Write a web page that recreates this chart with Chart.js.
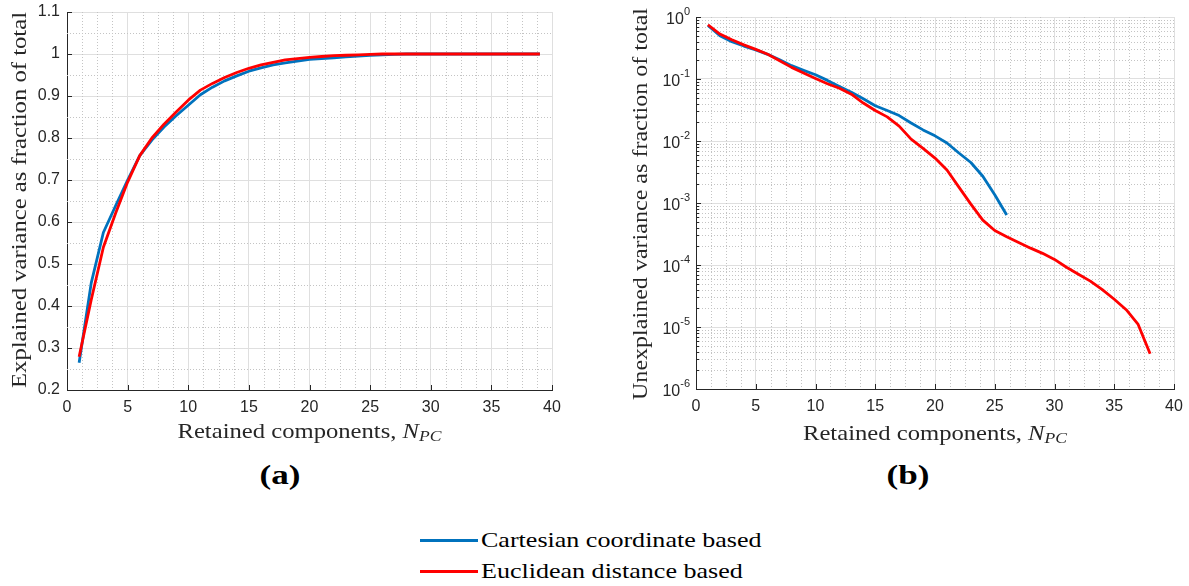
<!DOCTYPE html>
<html>
<head>
<meta charset="utf-8">
<title>Retained components</title>
<script src="https://cdn.jsdelivr.net/npm/chart.js@4.4.0/dist/chart.umd.min.js"></script>
<style>
  body { margin: 0; background: #fff; width: 1189px; height: 586px; position: relative; overflow: hidden; }
  canvas { position: absolute; top: 0; }
  #chartA { left: 0; }
  #chartB { left: 600px; }
  .panel { position: absolute; top: 460px; font: bold 27px "Liberation Serif", serif; color: #000;
           transform: translateX(-50%) scaleX(1.3); }
  .legend { position: absolute; left: 420px; top: 525px; font: 21px "Liberation Serif", serif; color: #000; }
  .legend div { display: flex; align-items: center; height: 31px; white-space: nowrap; }
  .legend .swatch { display: inline-block; width: 58px; height: 3px; margin-right: 3px; }
  .legend .txt { display: inline-block; transform: scaleX(1.24); transform-origin: left center; }
</style>
</head>
<body>
<canvas id="chartA" width="600" height="460"></canvas>
<canvas id="chartB" width="589" height="460"></canvas>
<div class="panel" style="left:280px">(a)</div>
<div class="panel" style="left:908px">(b)</div>
<div class="legend">
  <div><span class="swatch" style="background:#0072BD"></span><span class="txt">Cartesian coordinate based</span></div>
  <div><span class="swatch" style="background:#FF0000"></span><span class="txt">Euclidean distance based</span></div>
</div>
<script>
// Number of retained principal components
const nPC = [1, 2, 3, 4, 5, 6, 7, 8, 9, 10, 11, 12, 13, 14, 15, 16, 17, 18, 19, 20,
  21, 22, 23, 24, 25, 26, 27, 28, 29, 30, 31, 32, 33, 34, 35, 36, 37, 38, 39];

// Explained variance (fraction of total)
const explainedCartesian = [0.265, 0.455, 0.575, 0.638, 0.700, 0.758, 0.795, 0.826, 0.853, 0.878,
  0.903, 0.921, 0.936, 0.948, 0.959, 0.967, 0.974, 0.979, 0.983, 0.987,
  0.989, 0.991, 0.993, 0.995, 0.997, 0.998, 0.999, 1.000, 1.000, 1.000,
  1.000, 1.000, 1.000, 1.000, 1.000, 1.000, 1.000, 1.000, 1.000];
const explainedEuclidean = [0.279, 0.415, 0.540, 0.620, 0.695, 0.758, 0.800, 0.833, 0.862, 0.890,
  0.914, 0.930, 0.944, 0.956, 0.966, 0.974, 0.980, 0.986, 0.989, 0.992,
  0.994, 0.996, 0.997, 0.998, 0.999, 1.000, 1.000, 1.000, 1.000, 1.000,
  1.000, 1.000, 1.000, 1.000, 1.000, 1.000, 1.000, 1.000, 1.000];

// Unexplained variance (fraction of total)
const unexplainedCartesian = [0.73, 0.50, 0.40, 0.34, 0.295, 0.25, 0.204, 0.164, 0.138, 0.117,
  0.095, 0.076, 0.061, 0.048, 0.037, 0.031, 0.0257, 0.0195, 0.0151, 0.0121,
  0.0093, 0.0064, 0.0045, 0.0027, 0.00136, 0.00064];
const unexplainedEuclidean = [0.75, 0.53, 0.43, 0.355, 0.30, 0.25, 0.197, 0.154, 0.125, 0.102,
  0.084, 0.071, 0.057, 0.041, 0.031, 0.0245, 0.0174, 0.0107, 0.0076, 0.0053,
  0.0034, 0.0018, 0.00096, 0.00053, 0.00036, 0.000285, 0.00023, 0.000187, 0.000154, 0.000123,
  0.000092, 0.000071, 0.000055, 0.00004, 0.000028, 0.000019, 0.000011, 0.0000037];

// Axis ticks
const xTicks = [0, 5, 10, 15, 20, 25, 30, 35, 40];
const explainedTicks = [0.2, 0.3, 0.4, 0.5, 0.6, 0.7, 0.8, 0.9, 1.0, 1.1];
const unexplainedTicks = [1e-6, 1e-5, 1e-4, 1e-3, 1e-2, 1e-1, 1];

const BLUE = '#0072BD';
const RED = '#FF0000';
const AXIS = '#262626';
const MAJOR_GRID = '#dfdfdf';
const MINOR_GRID = '#c4c4c4';
const TICK_FONT = { family: '"Liberation Sans", Arial, sans-serif', size: 16 };
const SERIF = '"Liberation Serif", serif';
const TITLE_SIZE = 21;

function points(values) {
  return values.map((v, i) => ({ x: nPC[i], y: v }));
}

function lineSet(label, values, color, order) {
  return {
    label, data: points(values), borderColor: color, backgroundColor: color,
    borderWidth: 2.8, pointRadius: 0, tension: 0, order,
    borderJoinStyle: 'round', borderCapStyle: 'butt'
  };
}

// minor grid positions: 4 subdivisions between x ticks
function xMinorValues() {
  const out = [];
  for (let i = 0; i < xTicks.length - 1; i++)
    for (let k = 1; k < 4; k++) out.push(xTicks[i] + k * (xTicks[i + 1] - xTicks[i]) / 4);
  return out;
}

// writes runs of text centred on the origin, stretched to the given width
function drawRuns(ctx, runs, width) {
  let natural = 0;
  runs.forEach(r => { ctx.font = r.f; r.w = ctx.measureText(r.t).width; natural += r.w; });
  const k = width / natural;
  ctx.save();
  ctx.scale(k, 1);
  ctx.fillStyle = AXIS;
  ctx.textBaseline = 'middle';
  ctx.textAlign = 'left';
  let x = -natural / 2;
  runs.forEach(r => { ctx.font = r.f; ctx.fillText(r.t, x, r.dy || 0); x += r.w; });
  ctx.restore();
}

// "Retained components, N_PC"
function drawXTitle(ctx, cx, cy, width) {
  ctx.save();
  ctx.translate(cx, cy);
  drawRuns(ctx, [
    { t: 'Retained components, ', f: `${TITLE_SIZE}px ${SERIF}` },
    { t: 'N', f: `italic ${TITLE_SIZE}px ${SERIF}` },
    { t: 'PC', f: `italic ${Math.round(TITLE_SIZE * 0.7)}px ${SERIF}`, dy: 5 }
  ], width);
  ctx.restore();
}

function drawYTitle(ctx, text, cx, cy, length) {
  ctx.save();
  ctx.translate(cx, cy);
  ctx.rotate(-Math.PI / 2);
  drawRuns(ctx, [{ t: text, f: `${TITLE_SIZE}px ${SERIF}` }], length);
  ctx.restore();
}

function matlabAxes(cfg) {
  return {
    id: 'matlabAxes',
    beforeDatasetsDraw(chart) {
      const { ctx, chartArea: a, scales: { x, y } } = chart;
      ctx.save();
      ctx.strokeStyle = MINOR_GRID;
      ctx.lineWidth = 1;
      ctx.setLineDash([1, 2]);
      ctx.beginPath();
      xMinorValues().forEach(v => {
        const px = Math.round(x.getPixelForValue(v)) + 0.5;
        ctx.moveTo(px, a.top); ctx.lineTo(px, a.bottom);
      });
      cfg.yMinor.forEach(v => {
        const py = Math.round(y.getPixelForValue(v)) + 0.5;
        ctx.moveTo(a.left, py); ctx.lineTo(a.right, py);
      });
      ctx.stroke();
      ctx.restore();
    },
    afterDatasetsDraw(chart) {
      // inward tick marks
      const { ctx, chartArea: a, scales: { x, y } } = chart;
      ctx.save();
      ctx.strokeStyle = AXIS;
      ctx.lineWidth = 1;
      ctx.beginPath();
      xTicks.forEach(v => {
        const px = Math.round(x.getPixelForValue(v)) + 0.5;
        ctx.moveTo(px, a.bottom); ctx.lineTo(px, a.bottom - 5);
      });
      cfg.yTicks.forEach(v => {
        const py = Math.round(y.getPixelForValue(v)) + 0.5;
        ctx.moveTo(a.left, py); ctx.lineTo(a.left + 5, py);
      });
      if (cfg.log) {
        cfg.yMinor.forEach(v => {
          const py = Math.round(y.getPixelForValue(v)) + 0.5;
          ctx.moveTo(a.left, py); ctx.lineTo(a.left + 3, py);
        });
      }
      ctx.stroke();
      ctx.restore();
    },
    afterDraw(chart) {
      const { ctx, chartArea: a, scales: { y } } = chart;
      ctx.save();
      if (cfg.log) {
        // power-of-ten labels with raised exponent
        cfg.yTicks.forEach(v => {
          const e = Math.round(Math.log10(v));
          const py = y.getPixelForValue(v);
          ctx.fillStyle = AXIS;
          ctx.textBaseline = 'alphabetic';
          ctx.textAlign = 'left';
          const base = '10', sup = String(e);
          ctx.font = `16px ${TICK_FONT.family}`;
          const wb = ctx.measureText(base).width;
          ctx.font = `11px ${TICK_FONT.family}`;
          const ws = ctx.measureText(sup).width;
          const x0 = a.left - 6 - wb - ws;
          ctx.font = `16px ${TICK_FONT.family}`;
          ctx.fillText(base, x0, py + 7);
          ctx.font = `11px ${TICK_FONT.family}`;
          ctx.fillText(sup, x0 + wb, py - 2);
        });
      }
      drawXTitle(ctx, (a.left + a.right) / 2, cfg.xTitleY, 264);
      drawYTitle(ctx, cfg.yTitle, cfg.yTitleX, cfg.yTitleCY, cfg.yTitleLen);
      ctx.restore();
    }
  };
}

function xScale(height) {
  return {
    type: 'linear', min: 0, max: 40,
    afterBuildTicks: s => { s.ticks = xTicks.map(v => ({ value: v })); },
    afterFit: s => { s.height = height; s.paddingLeft = 0; s.paddingRight = 0; },
    ticks: { font: TICK_FONT, color: AXIS, padding: 8, maxRotation: 0, autoSkip: false },
    grid: { color: MAJOR_GRID, drawTicks: false },
    border: { color: AXIS, width: 1 }
  };
}

function yFit(width) {
  return s => { s.width = width; s.paddingTop = 0; s.paddingBottom = 0; };
}

const common = {
  responsive: false,
  animation: false,
  plugins: { legend: { display: false }, tooltip: { enabled: false } }
};

// (a) explained variance, linear axis
const explainedMinor = explainedTicks.slice(0, -1).map(v => +(v + 0.05).toFixed(2));
new Chart(document.getElementById('chartA'), {
  type: 'line',
  data: {
    datasets: [
      lineSet('Cartesian coordinate based', explainedCartesian, BLUE, 1),
      lineSet('Euclidean distance based', explainedEuclidean, RED, 0)
    ]
  },
  options: {
    ...common,
    layout: { padding: { top: 12, right: 48, left: 0, bottom: 0 } },
    scales: {
      x: xScale(70),
      y: {
        type: 'linear', min: 0.2, max: 1.1,
        afterBuildTicks: s => { s.ticks = explainedTicks.map(v => ({ value: v })); },
        afterFit: yFit(67),
        ticks: { font: TICK_FONT, color: AXIS, padding: 7, callback: v => String(Number(v.toFixed(1))) },
        grid: { color: MAJOR_GRID, drawTicks: false },
        border: { color: AXIS, width: 1 }
      }
    }
  },
  plugins: [matlabAxes({
    yTicks: explainedTicks, yMinor: explainedMinor, log: false,
    xTitleY: 432, yTitle: 'Explained variance as fraction of total',
    yTitleX: 20, yTitleCY: 200, yTitleLen: 376
  })]
});

// (b) unexplained variance, logarithmic axis
const unexplainedMinor = [];
unexplainedTicks.slice(0, -1).forEach(d => {
  for (let k = 2; k <= 9; k++) unexplainedMinor.push(d * k);
});
new Chart(document.getElementById('chartB'), {
  type: 'line',
  data: {
    datasets: [
      lineSet('Cartesian coordinate based', unexplainedCartesian, BLUE, 1),
      lineSet('Euclidean distance based', unexplainedEuclidean, RED, 0)
    ]
  },
  options: {
    ...common,
    layout: { padding: { top: 17, right: 15, left: 0, bottom: 0 } },
    scales: {
      x: xScale(71),
      y: {
        type: 'logarithmic', min: 1e-6, max: 1,
        afterBuildTicks: s => { s.ticks = unexplainedTicks.map(v => ({ value: v })); },
        afterFit: yFit(96),
        ticks: { display: false },
        grid: { color: MAJOR_GRID, drawTicks: false },
        border: { color: AXIS, width: 1 }
      }
    }
  },
  plugins: [matlabAxes({
    yTicks: unexplainedTicks, yMinor: unexplainedMinor, log: true,
    xTitleY: 434, yTitle: 'Unexplained variance as fraction of total',
    yTitleX: 41, yTitleCY: 204, yTitleLen: 392
  })]
});
</script>
</body>
</html>
